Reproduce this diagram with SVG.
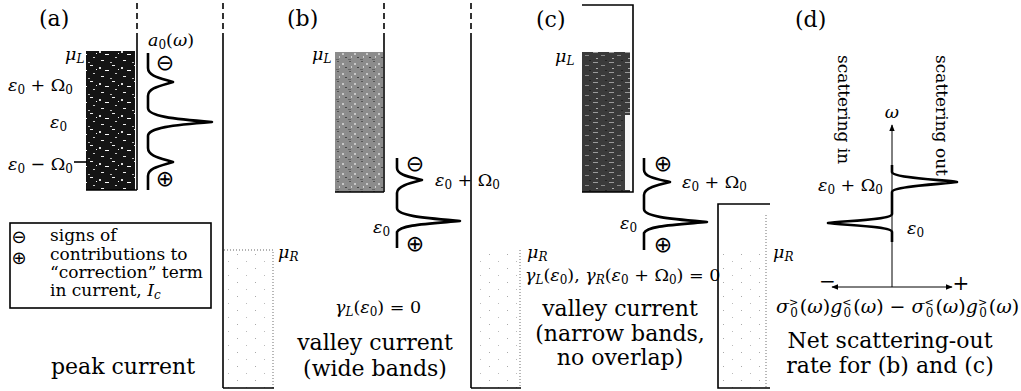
<svg xmlns="http://www.w3.org/2000/svg" width="1021" height="391" viewBox="0 0 1021 391">
<style>
.t{font-family:"DejaVu Serif","Liberation Serif",serif;fill:#000}
.big{font-size:22px}
.lg{font-size:17px}
.mt{font-size:17.5px}
.i{font-style:italic}
.sym{font-family:"DejaVu Sans",sans-serif;font-size:22px;fill:#000}
.lsym{font-family:"DejaVu Sans",sans-serif;font-size:18px;fill:#000}
.ln{stroke:#000;stroke-width:1.6;fill:none}
.dash{stroke:#000;stroke-width:1.6;fill:none;stroke-dasharray:6 4}
.curve{stroke:#000;stroke-width:2.6;fill:none;stroke-linejoin:round}
.thin{stroke:#000;stroke-width:1;fill:none}
.edge{stroke:#999;stroke-width:1.4;stroke-dasharray:1 2;fill:none}
</style>
<defs>
<pattern id="pDark" width="22" height="16" patternUnits="userSpaceOnUse">
<rect width="22" height="16" fill="#141414"/>
<rect x="2" y="1" width="3" height="1" fill="#eee"/>
<rect x="11" y="3" width="2" height="2" fill="#ddd"/>
<rect x="17" y="6" width="4" height="1" fill="#fff"/>
<rect x="5" y="9" width="2" height="1" fill="#ccc"/>
<rect x="13" y="12" width="3" height="1" fill="#eee"/>
<rect x="0" y="14" width="2" height="1" fill="#bbb"/>
<rect x="8" y="5" width="1" height="1" fill="#fff"/>
</pattern>
<pattern id="pMid" width="12" height="10" patternUnits="userSpaceOnUse">
<rect width="12" height="10" fill="#8c8c8c"/>
<rect x="1" y="1" width="2" height="1" fill="#555"/>
<rect x="6" y="3" width="2" height="2" fill="#c8c8c8"/>
<rect x="9" y="7" width="2" height="1" fill="#444"/>
<rect x="3" y="6" width="1" height="2" fill="#d0d0d0"/>
<rect x="0" y="9" width="3" height="1" fill="#666"/>
</pattern>
<pattern id="pDeep" width="16" height="10" patternUnits="userSpaceOnUse">
<rect width="16" height="10" fill="#3a3a3a"/>
<rect x="1" y="2" width="5" height="1" fill="#9a9a9a"/>
<rect x="9" y="5" width="4" height="1" fill="#888"/>
<rect x="4" y="8" width="2" height="1" fill="#aaa"/>
<rect x="13" y="0" width="2" height="1" fill="#222"/>
</pattern>
<pattern id="pLight" width="18" height="14" patternUnits="userSpaceOnUse">
<rect width="18" height="14" fill="#fff"/>
<rect x="3" y="2" width="1" height="1" fill="#aaa"/>
<rect x="12" y="9" width="1" height="1" fill="#bbb"/>
</pattern>
<marker id="ah" viewBox="0 0 10 10" refX="9" refY="5" markerWidth="7" markerHeight="7" orient="auto-start-reverse">
<path d="M0,1 L10,5 L0,9 Z" fill="#000"/>
</marker>
</defs>
<rect width="1021" height="391" fill="#fff"/>

<!-- Panel (a) -->
<g id="panel-a">
<text class="t big" x="39" y="26">(a)</text>
<g id="a-left-contact">
<rect x="86" y="51" width="49" height="139" fill="url(#pDark)"/>
<line class="dash" x1="137" y1="3" x2="137" y2="33"/>
<line class="ln" x1="137" y1="33" x2="137" y2="190"/>
<line class="ln" x1="86" y1="190" x2="137" y2="190"/>
<line class="ln" x1="74" y1="162" x2="87" y2="162"/>
</g>
<text class="t mt i" x="65" y="60">μ<tspan font-size="12" dy="3">L</tspan></text>
<text class="t mt" x="8" y="91"><tspan class="i">ε</tspan><tspan font-size="12" dy="3">0</tspan><tspan dy="-3"> + Ω</tspan><tspan font-size="12" dy="3">0</tspan></text>
<text class="t mt" x="50" y="128"><tspan class="i">ε</tspan><tspan font-size="12" dy="3">0</tspan></text>
<text class="t mt" x="8" y="170"><tspan class="i">ε</tspan><tspan font-size="12" dy="3">0</tspan><tspan dy="-3"> − Ω</tspan><tspan font-size="12" dy="3">0</tspan></text>
<text class="t mt" x="148" y="46"><tspan class="i">a</tspan><tspan font-size="12" dy="3">0</tspan><tspan dy="-3">(</tspan><tspan class="i">ω</tspan>)</text>
<g id="a-spectral">
<path class="curve" d="M148,53 V68 C148,76 160,78 173,82 C160,86 148,88 148,96 V108 C148,116 172,119 212,122 C172,125 148,128 148,136 V148 C148,156 160,158 173,162 C160,166 148,168 148,176 V190"/>
<text class="sym" x="165" y="70" text-anchor="middle">⊖</text>
<text class="sym" x="165" y="186" text-anchor="middle">⊕</text>
</g>
<g id="a-right-contact">
<rect x="224" y="250" width="49" height="138" fill="url(#pLight)"/>
<path class="edge" d="M224,250 H273 V388"/>
<line class="dash" x1="223" y1="3" x2="223" y2="33"/>
<line class="ln" x1="223" y1="33" x2="223" y2="388"/>
<line class="ln" x1="223" y1="388" x2="274" y2="388"/>
</g>
<text class="t mt i" x="278" y="258">μ<tspan font-size="12" dy="3">R</tspan></text>
<g id="legend">
<rect class="ln" x="10" y="223" width="201" height="85"/>
<text class="lsym" x="19" y="243" text-anchor="middle">⊖</text>
<text class="lsym" x="19" y="264" text-anchor="middle">⊕</text>
<text class="t lg" x="50" y="241">signs of</text>
<text class="t lg" x="50" y="260">contributions to</text>
<text class="t lg" x="50" y="278">“correction” term</text>
<text class="t lg" x="50" y="296">in current, <tspan class="i">I</tspan><tspan class="i" font-size="12" dy="3">c</tspan></text>
</g>
<text class="t big" x="123" y="374" text-anchor="middle">peak current</text>
</g>

<!-- Panel (b) -->
<g id="panel-b">
<text class="t big" x="287" y="26">(b)</text>
<g id="b-left-contact">
<rect x="335" y="52" width="48" height="140" fill="url(#pMid)"/>
<line class="dash" x1="384" y1="3" x2="384" y2="33"/>
<line class="ln" x1="384" y1="33" x2="384" y2="192"/>
<line class="ln" x1="335" y1="192" x2="384" y2="192"/>
</g>
<text class="t mt i" x="312" y="60">μ<tspan font-size="12" dy="3">L</tspan></text>
<g id="b-spectral">
<path class="curve" d="M397,158 V168 C397,175 410,177 422,180 C410,183 397,186 397,193 V208 C397,216 425,218 460,221 C425,224 400,225 397,232 V248"/>
<text class="sym" x="415" y="171" text-anchor="middle">⊖</text>
<text class="sym" x="415" y="251" text-anchor="middle">⊕</text>
</g>
<text class="t mt" x="435" y="186"><tspan class="i">ε</tspan><tspan font-size="12" dy="3">0</tspan><tspan dy="-3"> + Ω</tspan><tspan font-size="12" dy="3">0</tspan></text>
<text class="t mt" x="373" y="233"><tspan class="i">ε</tspan><tspan font-size="12" dy="3">0</tspan></text>
<g id="b-right-contact">
<rect x="472" y="250" width="48" height="138" fill="url(#pLight)"/>
<path class="edge" d="M520,250 V388"/>
<line class="dash" x1="471" y1="3" x2="471" y2="33"/>
<line class="ln" x1="471" y1="33" x2="471" y2="388"/>
<line class="ln" x1="471" y1="388" x2="521" y2="388"/>
</g>
<text class="t mt i" x="527" y="258">μ<tspan font-size="12" dy="3">R</tspan></text>
<text class="t mt" x="335" y="313"><tspan class="i">γ</tspan><tspan class="i" font-size="12" dy="3">L</tspan><tspan dy="-3">(</tspan><tspan class="i">ε</tspan><tspan font-size="12" dy="3">0</tspan><tspan dy="-3">) = 0</tspan></text>
<text class="t big" x="375" y="350" text-anchor="middle">valley current</text>
<text class="t big" x="375" y="376" text-anchor="middle">(wide bands)</text>
</g>

<!-- Panel (c) -->
<g id="panel-c">
<text class="t big" x="536" y="27">(c)</text>
<g id="c-left-contact">
<rect x="582" y="52" width="48" height="140" fill="url(#pDeep)"/>
<rect x="625" y="115" width="5" height="75" fill="#f4f4f4"/>
<path class="ln" d="M582,5 H633 V192 H582"/>
</g>
<text class="t mt i" x="555" y="62">μ<tspan font-size="12" dy="3">L</tspan></text>
<g id="c-spectral">
<path class="curve" d="M644,158 V170 C644,177 657,179 670,182 C657,185 644,188 644,195 V209 C644,217 672,219 707,222 C672,225 647,226 644,233 V250"/>
<text class="sym" x="663" y="171" text-anchor="middle">⊕</text>
<text class="sym" x="663" y="252" text-anchor="middle">⊕</text>
</g>
<text class="t mt" x="682" y="188"><tspan class="i">ε</tspan><tspan font-size="12" dy="3">0</tspan><tspan dy="-3"> + Ω</tspan><tspan font-size="12" dy="3">0</tspan></text>
<text class="t mt" x="620" y="229"><tspan class="i">ε</tspan><tspan font-size="12" dy="3">0</tspan></text>
<g id="c-right-contact">
<rect x="719" y="250" width="47" height="138" fill="url(#pLight)"/>
<path class="edge" d="M766,215 V388"/>
<path class="ln" d="M770,204 H718 V388 H770"/>
</g>
<text class="t mt i" x="773" y="258">μ<tspan font-size="12" dy="3">R</tspan></text>
<text class="t mt" x="525" y="281"><tspan class="i">γ</tspan><tspan class="i" font-size="12" dy="3">L</tspan><tspan dy="-3">(</tspan><tspan class="i">ε</tspan><tspan font-size="12" dy="3">0</tspan><tspan dy="-3">), </tspan><tspan class="i">γ</tspan><tspan class="i" font-size="12" dy="3">R</tspan><tspan dy="-3">(</tspan><tspan class="i">ε</tspan><tspan font-size="12" dy="3">0</tspan><tspan dy="-3"> + Ω</tspan><tspan font-size="12" dy="3">0</tspan><tspan dy="-3">) = 0</tspan></text>
<text class="t big" x="620" y="316" text-anchor="middle">valley current</text>
<text class="t big" x="620" y="341" text-anchor="middle">(narrow bands,</text>
<text class="t big" x="620" y="365" text-anchor="middle">no overlap)</text>
</g>

<!-- Panel (d) -->
<g id="panel-d">
<text class="t big" x="795" y="27">(d)</text>
<text class="t lg" transform="translate(838,55) rotate(90)">scattering in</text>
<text class="t lg" transform="translate(936,55) rotate(90)">scattering out</text>
<text class="t mt i" x="892" y="118" text-anchor="middle">ω</text>
<g id="d-spectral">
<path class="curve" d="M892,165 V172 C892,178 945,180 957,182 C945,184 892,186 892,192 V214 C892,220 840,221 828,223 C840,225 892,226 892,232 V242"/>
</g>
<text class="t mt" x="818" y="191"><tspan class="i">ε</tspan><tspan font-size="12" dy="3">0</tspan><tspan dy="-3"> + Ω</tspan><tspan font-size="12" dy="3">0</tspan></text>
<text class="t mt" x="907" y="234"><tspan class="i">ε</tspan><tspan font-size="12" dy="3">0</tspan></text>
<text class="t" font-size="20" x="819" y="288">−</text>
<text class="t" font-size="20" x="961" y="290" text-anchor="middle">+</text>
<text class="t" font-size="19" x="776" y="313"><tspan class="i">σ</tspan><tspan font-size="11" dy="-7">&gt;</tspan><tspan font-size="12" dx="-8" dy="11">0</tspan><tspan dx="2" dy="-4">(</tspan><tspan class="i">ω</tspan><tspan>)</tspan><tspan class="i">g</tspan><tspan font-size="11" dy="-7">&lt;</tspan><tspan font-size="12" dx="-8" dy="11">0</tspan><tspan dx="2" dy="-4">(</tspan><tspan class="i">ω</tspan><tspan>) − </tspan><tspan class="i">σ</tspan><tspan font-size="11" dy="-7">&lt;</tspan><tspan font-size="12" dx="-8" dy="11">0</tspan><tspan dx="2" dy="-4">(</tspan><tspan class="i">ω</tspan><tspan>)</tspan><tspan class="i">g</tspan><tspan font-size="11" dy="-7">&gt;</tspan><tspan font-size="12" dx="-8" dy="11">0</tspan><tspan dx="2" dy="-4">(</tspan><tspan class="i">ω</tspan><tspan>)</tspan></text>
<text class="t big" x="890" y="348" text-anchor="middle">Net scattering-out</text>
<text class="t big" x="890" y="373" text-anchor="middle">rate for (b) and (c)</text>
</g>

<g id="connectors">
<line class="thin" x1="892" y1="287" x2="892" y2="125" marker-end="url(#ah)"/>
<line class="thin" x1="892" y1="287" x2="832" y2="287" marker-end="url(#ah)"/>
<line class="thin" x1="892" y1="287" x2="952" y2="287" marker-end="url(#ah)"/>
</g>
</svg>
